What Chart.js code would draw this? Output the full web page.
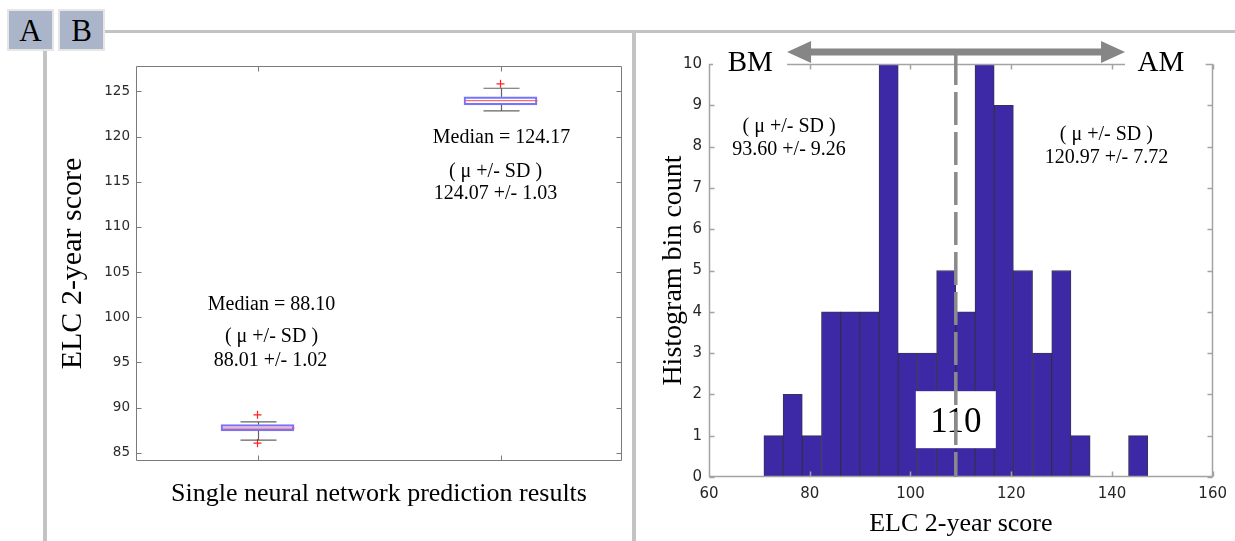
<!DOCTYPE html>
<html>
<head>
<meta charset="utf-8">
<script src="https://cdn.jsdelivr.net/npm/chart.js@4.4.1/dist/chart.umd.min.js"></script>
<style>
  html, body { margin: 0; padding: 0; background: #fff; }
  #wrap { position: relative; width: 1235px; height: 541px; overflow: hidden; background: #fff; }
  .gl { position: absolute; background: #c3c3c3; }
  .tab { position: absolute; top: 9px; height: 42px; box-sizing: border-box; background: #abb5c9;
         border: 2px solid #e6e6e6; font: 31px 'Liberation Serif', serif; color: #000;
         text-align: center; line-height: 40px; }
  canvas { position: absolute; top: 0; }
</style>
</head>
<body>
<div id="wrap">
  <div class="gl" style="left:105px;top:29.5px;width:1130px;height:3px"></div>
  <div class="gl" style="left:43px;top:50px;width:3.5px;height:491px"></div>
  <div class="gl" style="left:632px;top:30px;width:4px;height:511px"></div>
  <div class="tab" style="left:7px;width:47px">A</div>
  <div class="tab" style="left:58px;width:47px">B</div>
  <canvas id="c1" width="632" height="541" style="left:0"></canvas>
  <canvas id="c2" width="599" height="541" style="left:636px"></canvas>
</div>
<script>
// ---------- Panel A data (box plots) ----------
const boxGroups = ['1', '2'];
const boxQ1 = [87.44, 123.50];
const boxQ3 = [88.13, 124.39];
const boxMedian = [87.74, 123.97];
const whiskerLow = [86.41, 122.84];
const whiskerHigh = [88.43, 125.34];
const outliersHigh = [89.21, 125.83];
const outliersLow = [86.07, null];
const medianLabels = ['Median = 88.10', 'Median = 124.17'];
const statHeader = '( \u03bc +/- SD )';
const boxStatLabels = ['88.01 +/- 1.02', '124.07 +/- 1.03'];
const boxYTicks = [85, 90, 95, 100, 105, 110, 115, 120, 125];

// ---------- Panel B data (histogram) ----------
const histBinEdges = [70.90, 74.71, 78.52, 82.33, 86.14, 89.95, 93.76, 97.57, 101.38, 105.19, 109.00,
                      112.81, 116.62, 120.43, 124.24, 128.05, 131.86, 135.67, 139.48, 143.29, 147.10];
const histCounts = [1, 2, 1, 4, 4, 4, 10, 3, 3, 5, 4, 10, 9, 5, 3, 5, 1, 0, 0, 1];
const histXTicks = [60, 80, 100, 120, 140, 160];
const histYTicks = [0, 1, 2, 3, 4, 5, 6, 7, 8, 9, 10];
const groupNames = ['BM', 'AM'];
const groupStatLabels = ['93.60 +/- 9.26', '120.97 +/- 7.72'];
const cutoffValue = 109;
const cutoffLabel = '110';

const SERIF = "'Liberation Serif', 'Times New Roman', serif";
const SANS = "'DejaVu Sans', sans-serif";

// MATLAB-like box frame with inward ticks
const framePlugin = {
  id: 'frame',
  afterDatasetsDraw(chart, args, o) {
    const { ctx, chartArea: a, scales: { x, y } } = chart;
    ctx.save();
    ctx.strokeStyle = o.color;
    ctx.lineWidth = o.width;
    const L = Math.round(a.left) + 0.5, R = Math.round(a.right) - 0.5;
    const T = Math.round(a.top) + 0.5, B = Math.round(a.bottom) - 0.5;
    ctx.beginPath();
    ctx.rect(L, T, R - L, B - T);
    y.ticks.forEach(t => {
      const p = Math.round(y.getPixelForValue(t.value)) + 0.5;
      ctx.moveTo(L, p); ctx.lineTo(L + o.tick, p);
      ctx.moveTo(R, p); ctx.lineTo(R - o.tick, p);
    });
    const xp = x.type === 'category'
      ? x.getLabels().map((_, i) => x.getPixelForValue(i))
      : x.ticks.map(t => x.getPixelForValue(t.value));
    xp.forEach(px => {
      const p = Math.round(px) + 0.5;
      ctx.moveTo(p, B); ctx.lineTo(p, B - o.tick);
      ctx.moveTo(p, T); ctx.lineTo(p, T + o.tick);
    });
    ctx.stroke();
    ctx.restore();
  }
};

// whiskers, medians and text for the box plots
const boxExtras = {
  id: 'boxExtras',
  afterDatasetsDraw(chart, args, o) {
    const { ctx, scales: { x, y } } = chart;
    ctx.save();
    boxGroups.forEach((g, i) => {
      const cx = Math.round(x.getPixelForValue(i)) + 0.5;
      ctx.lineWidth = 1.2;
      ctx.strokeStyle = 'rgba(60,60,60,0.8)';
      ctx.beginPath();
      ctx.moveTo(cx, y.getPixelForValue(boxQ3[i])); ctx.lineTo(cx, y.getPixelForValue(whiskerHigh[i]));
      ctx.moveTo(cx, y.getPixelForValue(boxQ1[i])); ctx.lineTo(cx, y.getPixelForValue(whiskerLow[i]));
      ctx.moveTo(cx - o.capHalf, y.getPixelForValue(whiskerHigh[i])); ctx.lineTo(cx + o.capHalf, y.getPixelForValue(whiskerHigh[i]));
      ctx.moveTo(cx - o.capHalf, y.getPixelForValue(whiskerLow[i])); ctx.lineTo(cx + o.capHalf, y.getPixelForValue(whiskerLow[i]));
      ctx.stroke();
      ctx.strokeStyle = 'rgba(255,70,70,0.8)';
      ctx.lineWidth = 1.3;
      ctx.beginPath();
      ctx.moveTo(cx - o.boxHalf, y.getPixelForValue(boxMedian[i]));
      ctx.lineTo(cx + o.boxHalf, y.getPixelForValue(boxMedian[i]));
      ctx.stroke();
      // annotation text
      const t = o.text[i];
      ctx.fillStyle = '#000';
      ctx.font = '20px ' + SERIF;
      ctx.textAlign = 'center';
      ctx.textBaseline = 'middle';
      ctx.fillText(medianLabels[i], cx + t.dx[0], y.getPixelForValue(t.y[0]));
      ctx.fillText(statHeader, cx + t.dx[1], y.getPixelForValue(t.y[1]));
      ctx.fillText(boxStatLabels[i], cx + t.dx[2], y.getPixelForValue(t.y[2]));
    });
    ctx.restore();
  }
};

// arrow, cut-off line, labels for the histogram
const histOverlay = {
  id: 'histOverlay',
  afterDraw(chart, args, o) {
    const { ctx, chartArea: a, scales: { x, y } } = chart;
    const xl = x.getPixelForValue(o.arrowFrom), xr = x.getPixelForValue(o.arrowTo);
    const ay = a.top - o.arrowRise;
    ctx.save();
    // white masks over the top frame line behind BM / AM
    ctx.fillStyle = '#fff';
    ctx.fillRect(a.left + 4, a.top - 3, xl - a.left - 4, 6);
    ctx.fillRect(xr, a.top - 3, x.getPixelForValue(o.maskTo) - xr, 6);
    // group names
    ctx.fillStyle = '#000';
    ctx.font = '29px ' + SERIF;
    ctx.textAlign = 'center';
    ctx.textBaseline = 'alphabetic';
    groupNames.forEach((n, i) => ctx.fillText(n, x.getPixelForValue(o.nameX[i]), a.top + 7));
    // group stats
    ctx.font = '20px ' + SERIF;
    ctx.textBaseline = 'middle';
    groupStatLabels.forEach((s, i) => {
      const sx = x.getPixelForValue(o.statX[i]);
      ctx.fillText(statHeader, sx, y.getPixelForValue(o.statY[i][0]));
      ctx.fillText(s, sx, y.getPixelForValue(o.statY[i][1]));
    });
    // cut-off label box
    const cx = x.getPixelForValue(cutoffValue);
    const by = y.getPixelForValue(o.labelY);
    ctx.fillStyle = '#fff';
    ctx.fillRect(cx - 40, by - 28, 80, 57);
    ctx.fillStyle = '#000';
    ctx.font = '35px ' + SERIF;
    ctx.textBaseline = 'alphabetic';
    ctx.fillText(cutoffLabel, cx, by + 13);
    // dashed cut-off line
    ctx.strokeStyle = '#8a8a8a';
    ctx.lineWidth = 3.5;
    ctx.setLineDash([33, 7]);
    ctx.beginPath();
    ctx.moveTo(cx, ay);
    ctx.lineTo(cx, a.bottom);
    ctx.stroke();
    ctx.setLineDash([]);
    // double arrow
    ctx.strokeStyle = '#868686';
    ctx.fillStyle = '#868686';
    ctx.lineWidth = 7;
    ctx.beginPath();
    ctx.moveTo(xl + 20, ay); ctx.lineTo(xr - 20, ay);
    ctx.stroke();
    ctx.beginPath();
    ctx.moveTo(xl, ay); ctx.lineTo(xl + 24, ay - 11); ctx.lineTo(xl + 24, ay + 11); ctx.closePath();
    ctx.moveTo(xr, ay); ctx.lineTo(xr - 24, ay - 11); ctx.lineTo(xr - 24, ay + 11); ctx.closePath();
    ctx.fill();
    ctx.restore();
  }
};

// ---------- Panel A chart ----------
new Chart(document.getElementById('c1'), {
  type: 'bar',
  data: {
    labels: boxGroups,
    datasets: [
      {
        type: 'bar',
        data: boxQ1.map((v, i) => [v, boxQ3[i]]),
        backgroundColor: 'rgba(0,0,0,0)',
        borderColor: 'rgba(70,70,255,0.75)',
        borderWidth: 1.5,
        borderSkipped: false,
        barThickness: 73
      },
      {
        type: 'line',
        data: outliersHigh,
        showLine: false,
        pointStyle: 'cross',
        pointRadius: 4,
        borderColor: '#ff2020',
        borderWidth: 1.2
      },
      {
        type: 'line',
        data: outliersLow,
        showLine: false,
        pointStyle: 'cross',
        pointRadius: 4,
        borderColor: '#ff2020',
        borderWidth: 1.2
      }
    ]
  },
  options: {
    responsive: false,
    animation: false,
    devicePixelRatio: 1,
    layout: { padding: { left: 0, top: 66, right: 10, bottom: 0 } },
    plugins: {
      legend: { display: false },
      tooltip: { enabled: false },
      frame: { color: '#7a7a7a', width: 1, tick: 5 },
      boxExtras: {
        capHalf: 18, boxHalf: 36,
        text: [
          { dx: [13, 13, 12], y: [101.37, 97.82, 95.23] },
          { dx: [0, -6, -6], y: [119.81, 116.14, 113.63] }
        ]
      }
    },
    scales: {
      x: {
        type: 'category',
        offset: true,
        grid: { display: false, drawTicks: false },
        border: { display: false },
        ticks: { display: false },
        title: { display: true, text: 'Single neural network prediction results', color: '#000',
                 font: { family: SERIF, size: 26 }, padding: { top: 0, bottom: 31 } },
        afterFit(s) { s.height = 80; }
      },
      y: {
        min: 84.1, max: 127.8,
        afterBuildTicks(s) { s.ticks = boxYTicks.map(v => ({ value: v })); },
        grid: { display: false, drawTicks: false },
        border: { display: false },
        ticks: { padding: 6, color: '#2a2a2a', font: { family: SANS, size: 13.5 } },
        title: { display: true, text: 'ELC 2-year score', color: '#000',
                 font: { family: SERIF, size: 30 }, padding: { top: 55, bottom: 0 } },
        afterFit(s) { s.width = 136; }
      }
    }
  },
  plugins: [framePlugin, boxExtras]
});

// ---------- Panel B chart ----------
new Chart(document.getElementById('c2'), {
  type: 'bar',
  data: {
    datasets: [{
      data: histCounts.map((c, i) => ({ x: (histBinEdges[i] + histBinEdges[i + 1]) / 2, y: c })),
      backgroundColor: '#3d29a6',
      borderColor: 'rgba(35,28,70,0.9)',
      borderWidth: 1,
      barPercentage: 1,
      categoryPercentage: 1
    }]
  },
  options: {
    responsive: false,
    animation: false,
    devicePixelRatio: 1,
    layout: { padding: { left: 0, top: 64, right: 20, bottom: 0 } },
    plugins: {
      legend: { display: false },
      tooltip: { enabled: false },
      frame: { color: '#a3a3a3', width: 1.5, tick: 5 },
      histOverlay: {
        arrowFrom: 75.5, arrowTo: 142.6, arrowRise: 12, maskTo: 158.6,
        nameX: [68.2, 149.7],
        statX: [75.9, 138.9],
        statY: [[8.49, 7.92], [8.28, 7.72]],
        labelY: 1.4
      }
    },
    scales: {
      x: {
        type: 'linear', min: 60, max: 160, offset: false,
        afterBuildTicks(s) { s.ticks = histXTicks.map(v => ({ value: v })); },
        grid: { display: false, drawTicks: false, offset: false },
        border: { display: false },
        ticks: { padding: 8, maxRotation: 0, color: '#262626', font: { family: SANS, size: 15 } },
        title: { display: true, text: 'ELC 2-year score', color: '#000',
                 font: { family: SERIF, size: 26 }, padding: { top: 0, bottom: 1 } },
        afterFit(s) { s.height = 64; }
      },
      y: {
        min: 0, max: 10,
        afterBuildTicks(s) { s.ticks = histYTicks.map(v => ({ value: v })); },
        grid: { display: false, drawTicks: false },
        border: { display: false },
        ticks: { padding: 7, color: '#262626', font: { family: SANS, size: 15 } },
        title: { display: true, text: 'Histogram bin count', color: '#000',
                 font: { family: SERIF, size: 28 }, padding: { top: 21, bottom: 0 } },
        afterFit(s) { s.width = 73; }
      }
    }
  },
  plugins: [framePlugin, histOverlay]
});
</script>
</body>
</html>
